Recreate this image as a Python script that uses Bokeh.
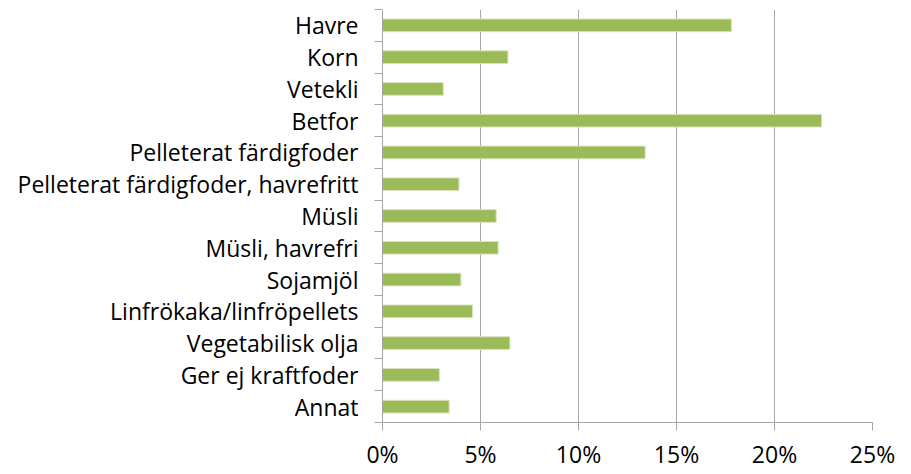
from bokeh.plotting import figure
from bokeh.models import FixedTicker, ColumnDataSource, Range1d
from bokeh.embed import file_html
from bokeh.resources import INLINE

categories = ["Havre", "Korn", "Vetekli", "Betfor", "Pelleterat färdigfoder",
              "Pelleterat färdigfoder, havrefritt", "Müsli", "Müsli, havrefri",
              "Sojamjöl", "Linfrökaka/linfröpellets", "Vegetabilisk olja",
              "Ger ej kraftfoder", "Annat"]
values = [17.8, 6.4, 3.1, 22.4, 13.4, 3.9, 5.8, 5.9, 4.0, 4.6, 6.5, 2.9, 3.4]
x_ticks = [0, 5, 10, 15, 20, 25]
x_tick_labels = ["0%", "5%", "10%", "15%", "20%", "25%"]

n = len(categories)
ypos = [n - 1 - i for i in range(n)]
src = ColumnDataSource(dict(y=ypos, v=values, name=categories))

p = figure(width=900, height=472, output_backend="svg", toolbar_location=None,
           x_range=Range1d(0, 25), y_range=Range1d(-0.5, n - 0.5),
           min_border_left=382, min_border_right=28, min_border_top=9, min_border_bottom=48)
p.outline_line_color = None
p.background_fill_color = "white"

p.hbar(y="y", right="v", left=0, height=0.4, source=src,
       fill_color="#9BBB59", line_color="#D7E4BD", line_width=1)

font = "Open Sans"
# x axis
p.xaxis.ticker = FixedTicker(ticks=x_ticks)
p.xaxis.major_label_overrides = {t: l for t, l in zip(x_ticks, x_tick_labels)}
p.xaxis.major_label_text_font = font
p.xaxis.major_label_text_font_size = "23px"
p.xaxis.major_label_text_color = "black"
p.xaxis.axis_line_color = "#A6A6A6"
p.xaxis.major_tick_line_color = "#A6A6A6"
p.xaxis.major_tick_out = 8
p.xaxis.major_tick_in = 0
p.xaxis.minor_tick_line_color = None
p.xaxis.major_label_standoff = 7

# y axis
p.yaxis.ticker = FixedTicker(ticks=ypos, minor_ticks=[k - 0.5 for k in range(n + 1)])
p.yaxis.major_label_overrides = {y: c for y, c in zip(ypos, categories)}
p.yaxis.major_label_text_font = font
p.yaxis.major_label_text_font_size = "23px"
p.yaxis.major_label_text_color = "black"
p.yaxis.axis_line_color = "#A6A6A6"
p.yaxis.major_tick_line_color = None
p.yaxis.major_tick_out = 8
p.yaxis.major_tick_in = 0
p.yaxis.minor_tick_line_color = "#A6A6A6"
p.yaxis.minor_tick_out = 8
p.yaxis.minor_tick_in = 0
p.yaxis.major_label_standoff = 16

p.xgrid.ticker = FixedTicker(ticks=x_ticks)
p.xgrid.grid_line_color = "#A6A6A6"
p.ygrid.grid_line_color = None

open("out.html", "w").write(file_html(p, INLINE))
